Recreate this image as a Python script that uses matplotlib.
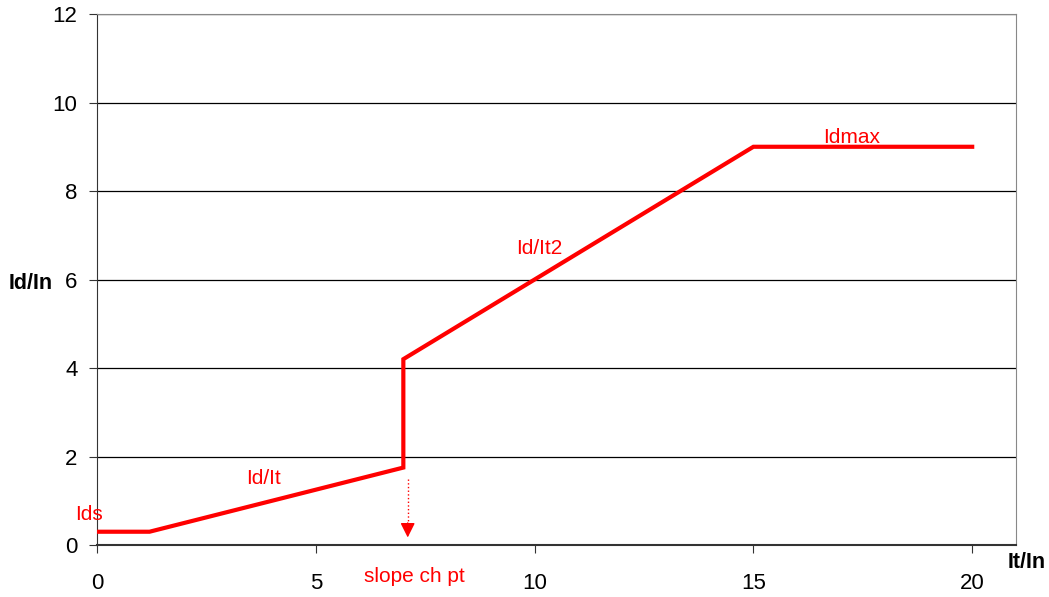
import matplotlib.pyplot as plt

plt.rcParams['font.family'] = ['Liberation Sans', 'DejaVu Sans']

# characteristic: Id/In versus It/In
it_in = [0, 1.2, 7, 7, 15, 20]
id_in = [0.3, 0.3, 1.75, 4.2, 9, 9]

x_ticks = [0, 5, 10, 15, 20]
y_ticks = [0, 2, 4, 6, 8, 10, 12]

fig = plt.figure(figsize=(10.49, 5.97), dpi=100)
ax = fig.add_axes([0.0925, 0.0871, 0.876, 0.8894])

for y in y_ticks[1:]:
    ax.axhline(y, color='black', lw=0.9, zorder=1)

ax.plot(it_in, id_in, color='red', lw=3, solid_joinstyle='miter', zorder=3)

# slope change marker: dotted shaft, solid head
ax.plot([7.1, 7.1], [1.5, 0.45], color='red', lw=1, ls=':')
ax.annotate('', xy=(7.1, 0.17), xytext=(7.1, 0.5),
            arrowprops=dict(arrowstyle='-|>', color='red', lw=1,
                            mutation_scale=22, shrinkA=0, shrinkB=0))

red = dict(color='red', fontsize=15)
ax.text(-0.5, 0.7, 'Ids', ha='left', va='center', **red)
ax.text(3.8, 1.5, 'Id/It', ha='center', va='center', **red)
ax.text(10.1, 6.7, 'Id/It2', ha='center', va='center', **red)
ax.text(17.25, 9.2, 'Idmax', ha='center', va='center', **red)
ax.text(7.25, -0.72, 'slope ch pt', ha='center', va='center', **red)

ax.set_xlim(0, 21)
ax.set_ylim(0, 12)
ax.set_xticks(x_ticks)
ax.set_yticks(y_ticks)
ax.tick_params(axis='x', labelsize=16, pad=14, length=6, color='#333333')
ax.tick_params(axis='y', labelsize=16, pad=8, length=6, color='#333333')

ax.spines['left'].set_color('#333333')
ax.spines['bottom'].set_color('#333333')
ax.spines['bottom'].set_linewidth(1.5)
ax.spines['top'].set_color('#888888')
ax.spines['right'].set_color('#888888')

fig.text(0.029, 0.525, 'Id/In', fontsize=15.5, fontweight='bold', ha='center', va='center')
fig.text(0.979, 0.057, 'It/In', fontsize=15.5, fontweight='bold', ha='center', va='center')

fig.savefig('out.png', dpi=100)
